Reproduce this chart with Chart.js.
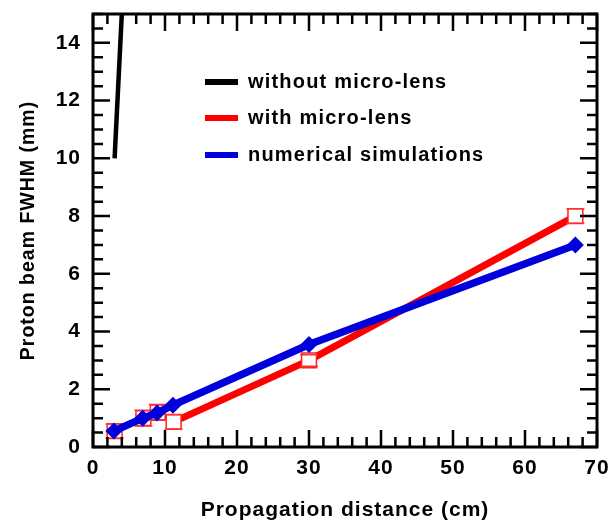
<!DOCTYPE html>
<html>
<head>
<meta charset="utf-8">
<script src="https://cdn.jsdelivr.net/npm/chart.js@4"></script>
<style>
  html, body { margin: 0; padding: 0; background: #fff; }
  #wrap { width: 613px; height: 528px; }
</style>
</head>
<body>
<div id="wrap"><canvas id="chart" width="613" height="528"></canvas></div>
<script>
// values
const blackX = [3, 4];
const blackY = [10, 15];

const redX = [3, 7, 9, 11.2, 30, 67];
const redY = [0.55, 1.0, 1.2, 0.87, 3.0, 8.0];
const redErr = [0.25, 0.27, 0.27, 0.25, 0.2, 0.25];

const blueX = [2.9, 6.9, 8.9, 11.1, 30, 67];
const blueY = [0.55, 1.0, 1.18, 1.45, 3.55, 7.0];

const xTicks = [0, 10, 20, 30, 40, 50, 60, 70];
const yTicks = [0, 2, 4, 6, 8, 10, 12, 14];
const xMinorStep = 2;
const yMinorStep = 0.5;

const legendLabels = ['without micro-lens', 'with micro-lens', 'numerical simulations'];
const legendColors = ['#000000', '#ff0000', '#0000dd'];

const FONT = '"Liberation Sans", Arial, sans-serif';

const toPoints = (xs, ys) => xs.map((x, i) => ({ x: x, y: ys[i] }));

// the original lettering is a bit wider than Arial
const spacingPlugin = {
    id: 'spacing',
    beforeDraw(chart) { chart.ctx.letterSpacing = '1px'; }
};

// frame with inward ticks on all four sides, plus the legend
const framePlugin = {
    id: 'frame',
    afterDraw(chart) {
        const { ctx, chartArea: a, scales: { x, y } } = chart;
        ctx.save();
        ctx.strokeStyle = '#000';
        ctx.lineWidth = 3;
        ctx.strokeRect(a.left, a.top, a.right - a.left, a.bottom - a.top);
        ctx.lineWidth = 2.5;
        ctx.beginPath();
        for (let v = x.min; v <= x.max + 1e-9; v += xMinorStep) {
            const px = x.getPixelForValue(v);
            const len = xTicks.includes(v) ? 17 : 10;
            ctx.moveTo(px, a.bottom); ctx.lineTo(px, a.bottom - len);
            ctx.moveTo(px, a.top); ctx.lineTo(px, a.top + len);
        }
        for (let v = y.min; v <= y.max + 1e-9; v += yMinorStep) {
            const py = y.getPixelForValue(v);
            const len = yTicks.includes(v) ? 17 : 10;
            ctx.moveTo(a.left, py); ctx.lineTo(a.left + len, py);
            ctx.moveTo(a.right, py); ctx.lineTo(a.right - len, py);
        }
        ctx.stroke();

        ctx.font = 'bold 20px ' + FONT;
        ctx.letterSpacing = '1.2px';
        ctx.textBaseline = 'middle';
        ctx.fillStyle = '#000';
        const rows = [82, 118, 155];
        legendLabels.forEach((label, i) => {
            ctx.strokeStyle = legendColors[i];
            ctx.lineWidth = 6;
            ctx.beginPath();
            ctx.moveTo(205, rows[i]); ctx.lineTo(238, rows[i]);
            ctx.stroke();
            ctx.fillText(label, 248, rows[i]);
        });
        ctx.restore();
    }
};

// small error bar caps on the red squares
const errorPlugin = {
    id: 'errbars',
    afterDatasetDraw(chart, args) {
        if (args.index !== 1) return;
        const { ctx, scales: { x, y } } = chart;
        ctx.save();
        ctx.strokeStyle = '#ff3030';
        ctx.lineWidth = 1.5;
        ctx.beginPath();
        redX.forEach((xv, i) => {
            const px = x.getPixelForValue(xv);
            const top = y.getPixelForValue(redY[i] + redErr[i]);
            const bot = y.getPixelForValue(redY[i] - redErr[i]);
            ctx.moveTo(px - 9, top); ctx.lineTo(px + 9, top);
            ctx.moveTo(px - 9, bot); ctx.lineTo(px + 9, bot);
        });
        ctx.stroke();
        ctx.restore();
    }
};

const noPad = s => { s.paddingTop = 0; s.paddingBottom = 0; s.paddingLeft = 0; s.paddingRight = 0; };

new Chart(document.getElementById('chart'), {
    type: 'line',
    data: {
        datasets: [
            {
                label: 'numerical simulations',
                data: toPoints(blueX, blueY),
                borderColor: '#0000dd',
                backgroundColor: '#0000dd',
                borderWidth: 7.5,
                pointStyle: 'rectRot',
                pointRadius: 8.5,
                pointBorderWidth: 0
            },
            {
                label: 'with micro-lens',
                data: toPoints(redX, redY),
                borderColor: '#ff0000',
                borderWidth: 7,
                segment: {
                    borderColor: c => c.p0DataIndex < 3 ? 'rgba(0,0,0,0)' : '#ff0000'
                },
                pointStyle: 'rect',
                pointRadius: 10.5,
                pointBackgroundColor: '#ffffff',
                pointBorderColor: '#ff2020',
                pointBorderWidth: 1.5
            },
            {
                label: 'without micro-lens',
                data: toPoints(blackX, blackY),
                borderColor: '#000000',
                borderWidth: 4.5,
                pointRadius: 0
            }
        ]
    },
    options: {
        responsive: false,
        animation: false,
        layout: { padding: { top: 14, right: 16, left: 0, bottom: 0 } },
        plugins: { legend: { display: false }, tooltip: { enabled: false } },
        scales: {
            x: {
                type: 'linear',
                min: 0,
                max: 70,
                afterBuildTicks: s => { s.ticks = xTicks.map(v => ({ value: v })); },
                afterFit: s => { s.height = 81; noPad(s); },
                grid: { display: false, drawTicks: false },
                border: { display: false },
                ticks: {
                    padding: 9,
                    color: '#000',
                    font: { family: FONT, size: 21, weight: 'bold' }
                },
                title: {
                    display: true,
                    text: 'Propagation distance (cm)',
                    color: '#000',
                    padding: { bottom: 5 },
                    font: { family: FONT, size: 21, weight: 'bold' }
                }
            },
            y: {
                type: 'linear',
                min: 0,
                max: 15,
                afterBuildTicks: s => { s.ticks = yTicks.map(v => ({ value: v })); },
                afterFit: s => { s.width = 93; noPad(s); },
                grid: { display: false, drawTicks: false },
                border: { display: false },
                ticks: {
                    padding: 12,
                    color: '#000',
                    font: { family: FONT, size: 21, weight: 'bold' }
                },
                title: {
                    display: true,
                    text: 'Proton beam FWHM (mm)',
                    color: '#000',
                    padding: { top: 17 },
                    font: { family: FONT, size: 19.5, weight: 'bold' }
                }
            }
        }
    },
    plugins: [spacingPlugin, framePlugin, errorPlugin]
});
</script>
</body>
</html>
